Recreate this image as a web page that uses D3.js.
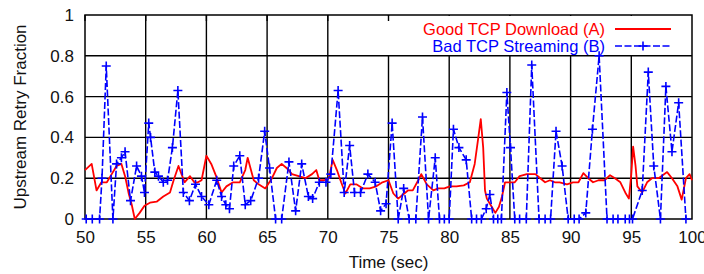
<!DOCTYPE html>
<html>
<head>
<meta charset="utf-8">
<script src="https://cdn.jsdelivr.net/npm/d3@7"></script>
<style>
  body { margin: 0; background: #fff; }
  svg text { font-family: "Liberation Sans", Arial, Helvetica, sans-serif; font-size: 17px; }
</style>
</head>
<body>
<svg id="chart" width="704" height="274"></svg>
<script>
// tick labels
const xTicks = [50, 55, 60, 65, 70, 75, 80, 85, 90, 95, 100];
const yTicks = [0, 0.2, 0.4, 0.6, 0.8, 1];

// series names
const seriesNames = ['Good TCP Download (A)', 'Bad TCP Streaming (B)'];

// Good TCP Download (A): [time, fraction]
const goodTcp = [
  [50, 0.24], [50.55, 0.27], [50.95, 0.14], [51.35, 0.18], [51.8, 0.18], [52.2, 0.22],
  [52.6, 0.26], [53.0, 0.27], [53.3, 0.21], [53.6, 0.125], [53.85, 0.07], [54.1, 0],
  [54.5, 0.03], [54.9, 0.065], [55.35, 0.08], [55.9, 0.085], [56.45, 0.11], [57.0, 0.13],
  [57.3, 0.19], [57.7, 0.26], [57.95, 0.22], [58.2, 0.18], [58.65, 0.21], [59.0, 0.18],
  [59.3, 0.18], [59.6, 0.19], [60.0, 0.31], [60.4, 0.27], [60.8, 0.21], [61.25, 0.13],
  [61.65, 0.16], [62.2, 0.18], [62.75, 0.18], [63.2, 0.24], [63.4, 0.3], [63.9, 0.19],
  [64.3, 0.17], [64.85, 0.15], [65.4, 0.2], [65.8, 0.25], [66.2, 0.27], [66.6, 0.25],
  [67.05, 0.22], [67.6, 0.21], [68.15, 0.2], [68.7, 0.22], [69.05, 0.24], [69.3, 0.19],
  [69.7, 0.19], [70.1, 0.2], [70.4, 0.29], [70.75, 0.24], [71.1, 0.18], [71.45, 0.125],
  [71.85, 0.17], [72.35, 0.17], [72.9, 0.15], [73.45, 0.15], [74.0, 0.16], [74.5, 0.18],
  [75.0, 0.19], [75.4, 0.125], [75.8, 0.1], [76.2, 0.12], [76.6, 0.14], [77.0, 0.14],
  [77.45, 0.19], [77.7, 0.22], [78.15, 0.17], [78.7, 0.14], [79.1, 0.15], [79.6, 0.15],
  [80.05, 0.16], [80.6, 0.16], [81.2, 0.165], [81.7, 0.18], [82.1, 0.27], [82.4, 0.4],
  [82.6, 0.49], [82.8, 0.35], [82.95, 0.14], [83.1, 0.1], [83.5, 0.06], [83.8, 0.03],
  [84.1, 0.06], [84.35, 0.11], [84.6, 0.18], [85.0, 0.18], [85.4, 0.18], [85.8, 0.21],
  [86.4, 0.22], [87.1, 0.22], [87.5, 0.2], [87.9, 0.18], [88.3, 0.19], [88.7, 0.18],
  [89.1, 0.18], [89.7, 0.17], [90.2, 0.18], [90.65, 0.18], [91.05, 0.225], [91.45, 0.2],
  [91.85, 0.18], [92.3, 0.19], [92.8, 0.19], [93.25, 0.215], [93.65, 0.2], [94.1, 0.18],
  [94.5, 0.13], [94.8, 0.1], [95.0, 0.22], [95.15, 0.355], [95.35, 0.26], [95.5, 0.16],
  [95.9, 0.13], [96.3, 0.18], [96.7, 0.2], [97.25, 0.2], [97.95, 0.23], [98.35, 0.2],
  [98.8, 0.16], [99.15, 0.095], [99.5, 0.2], [99.8, 0.22], [100, 0.19]
];

// Bad TCP Streaming (B): [time, fraction]
const badTcp = [
  [50.1, 0], [50.6, 0], [51.2, 0], [51.4, 0.2], [51.75, 0.75], [52.3, 0], [52.6, 0.27],
  [53.0, 0.3], [53.3, 0.33], [53.75, 0.09], [54.25, 0.26], [54.65, 0.21], [54.9, 0.13],
  [55.25, 0.47], [55.4, 0.4], [55.75, 0.23], [56.05, 0.21], [56.45, 0.18], [56.8, 0.19],
  [57.2, 0.35], [57.65, 0.63], [58.1, 0.13], [58.6, 0.09], [59.1, 0.17], [59.6, 0.11],
  [60.2, 0.07], [60.85, 0.19], [61.25, 0.11], [61.6, 0.07], [61.9, 0.05], [62.25, 0.26],
  [62.75, 0.31], [63.2, 0.07], [63.65, 0.09], [64.3, 0.2], [64.8, 0.43], [65.2, 0.25],
  [65.7, 0], [66.2, 0], [66.8, 0.28], [67.35, 0.04], [67.85, 0.27], [68.4, 0.11],
  [68.75, 0.1], [69.3, 0.18], [69.85, 0.18], [70.25, 0.22], [70.85, 0.63], [71.35, 0.13],
  [71.8, 0.36], [72.2, 0.13], [72.7, 0.13], [73.3, 0.22], [73.9, 0.18], [74.35, 0.04],
  [74.8, 0.075], [75.3, 0.47], [75.8, 0], [76.25, 0.15], [76.7, 0], [77.25, 0],
  [77.8, 0.5], [78.3, 0], [78.85, 0.3], [79.2, 0], [79.6, 0], [80.0, 0], [80.35, 0.44],
  [80.8, 0.35], [81.4, 0.29], [81.85, 0], [82.25, 0], [82.65, 0], [83.05, 0.05],
  [83.35, 0.12], [83.65, 0], [84.0, 0], [84.3, 0], [84.75, 0.62], [85.05, 0.35],
  [85.4, 0], [85.8, 0], [86.35, 0], [86.8, 0.755], [87.4, 0], [87.9, 0], [88.35, 0],
  [88.8, 0.43], [89.3, 0.26], [89.8, 0], [90.3, 0], [90.7, 0], [91.25, 0.03],
  [91.8, 0.44], [92.35, 0.8], [93.0, 0], [93.5, 0], [93.9, 0], [94.5, 0], [94.85, 0],
  [95.1, 0], [95.9, 0.14], [96.4, 0.72], [96.85, 0.26], [97.4, 0], [97.85, 0.65],
  [98.35, 0.33], [98.9, 0.57], [99.5, 0]
];

const svg = d3.select('#chart');
const plotLeft = 85, plotRight = 692, plotTop = 15, plotBottom = 219;

const x = d3.scaleLinear().domain([50, 100]).range([plotLeft, plotRight]);
const y = d3.scaleLinear().domain([0, 1]).range([plotBottom, plotTop]);

// 1) grid
svg.append('g')
  .selectAll('line')
  .data(xTicks.slice(1, -1))
  .join('line')
  .attr('x1', d => x(d)).attr('x2', d => x(d))
  .attr('y1', plotTop).attr('y2', plotBottom)
  .attr('stroke', '#000').attr('stroke-width', 1.4);

svg.append('g')
  .selectAll('line')
  .data(yTicks.slice(1, -1))
  .join('line')
  .attr('x1', plotLeft).attr('x2', plotRight)
  .attr('y1', d => y(d)).attr('y2', d => y(d))
  .attr('stroke', '#000').attr('stroke-width', 1.4);

// 2) key background (hides grid under the legend)
const keyX = 384, keyY = plotTop + 1, keyH = 39;
svg.append('rect')
  .attr('x', keyX).attr('y', keyY)
  .attr('width', plotRight - keyX).attr('height', keyH)
  .attr('fill', '#fff');

// mirror ticks on the top border
svg.append('g')
  .selectAll('line')
  .data(xTicks.filter(d => x(d) < keyX + 10))
  .join('line')
  .attr('x1', d => x(d)).attr('x2', d => x(d))
  .attr('y1', plotTop).attr('y2', plotTop + 6)
  .attr('stroke', '#000').attr('stroke-width', 1.4);

// 3) border
svg.append('rect')
  .attr('x', plotLeft).attr('y', plotTop)
  .attr('width', plotRight - plotLeft).attr('height', plotBottom - plotTop)
  .attr('fill', 'none').attr('stroke', '#000').attr('stroke-width', 1.5);

// 4) axes labels
const xAxis = svg.append('g')
  .attr('transform', `translate(0,${plotBottom})`)
  .call(d3.axisBottom(x).tickValues(xTicks).tickSize(0).tickPadding(12).tickFormat(d3.format('d')));
const yAxis = svg.append('g')
  .attr('transform', `translate(${plotLeft},0)`)
  .call(d3.axisLeft(y).tickValues(yTicks).tickSize(0).tickPadding(11).tickFormat(d3.format('~g')));

[xAxis, yAxis].forEach(ax => {
  ax.select('.domain').remove();
  ax.selectAll('text').attr('fill', '#111').style('font-size', '17px')
    .style('font-family', '"Liberation Sans", Arial, sans-serif');
});

svg.append('text')
  .attr('x', (plotLeft + plotRight) / 2).attr('y', 268)
  .attr('text-anchor', 'middle')
  .attr('fill', '#111')
  .text('Time (sec)');

svg.append('text')
  .attr('transform', `translate(26,${(plotTop + plotBottom) / 2}) rotate(-90)`)
  .attr('text-anchor', 'middle')
  .attr('fill', '#111')
  .text('Upstream Retry Fraction');

// 5) series
const line = d3.line().x(d => x(d[0])).y(d => y(d[1]));

svg.append('path')
  .datum(goodTcp)
  .attr('d', line)
  .attr('fill', 'none').attr('stroke', '#ff0000').attr('stroke-width', 1.8)
  .attr('stroke-linejoin', 'round');

svg.append('path')
  .datum(badTcp)
  .attr('d', line)
  .attr('fill', 'none').attr('stroke', '#0000ff').attr('stroke-width', 1.6)
  .attr('stroke-dasharray', '7,2.5');

const plus = 4.5;
const plusPath = (cx, cy) => `M${cx - plus},${cy}H${cx + plus}M${cx},${cy - plus}V${cy + plus}`;

svg.append('path')
  .attr('d', badTcp.map(d => plusPath(x(d[0]), y(d[1]))).join(''))
  .attr('fill', 'none').attr('stroke', '#0000ff').attr('stroke-width', 1.6);

// 6) legend
const legend = svg.append('g');
const legendColors = ['#ff0000', '#0000ff'];
seriesNames.forEach((name, i) => {
  const ty = 35 + i * 17;
  legend.append('text')
    .attr('x', 605).attr('y', ty)
    .attr('text-anchor', 'end')
    .attr('fill', legendColors[i])
    .style('font-size', '16.5px')
    .text(name);
  const sample = legend.append('line')
    .attr('x1', 615).attr('x2', 671)
    .attr('y1', ty - 6).attr('y2', ty - 6)
    .attr('stroke', legendColors[i]).attr('stroke-width', i === 0 ? 1.8 : 1.6);
  if (i === 1) {
    sample.attr('stroke-dasharray', '7,2.5');
    legend.append('path')
      .attr('d', plusPath(643, ty - 6))
      .attr('stroke', legendColors[i]).attr('stroke-width', 1.6);
  }
});
</script>
</body>
</html>
